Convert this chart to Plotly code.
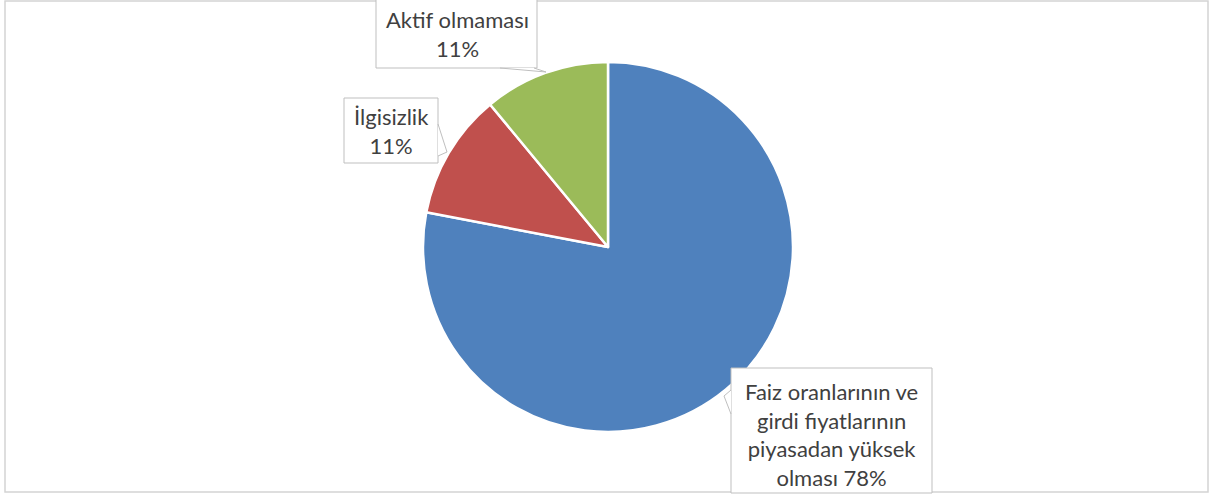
import textwrap
import plotly.graph_objects as go

# ---- data ----
labels = ["Faiz oranlarının ve girdi fiyatlarının piyasadan yüksek olması",
          "İlgisizlik",
          "Aktif olmaması"]
values = [78, 11, 11]
colors = ["#4F81BD", "#C0504D", "#9BBB59"]

W, H = 1220, 499


def px(x):
    return x / W


def py(y):
    return 1 - y / H


# pie geometry (pixels)
cx, cy, r = 608, 247, 185

fig = go.Figure(go.Pie(
    labels=labels,
    values=values,
    sort=False,
    direction="clockwise",
    rotation=0,
    marker=dict(colors=colors, line=dict(color="white", width=2.5)),
    textinfo="none",
    hoverinfo="label+percent",
    showlegend=False,
    domain=dict(x=[px(cx - r), px(cx + r)], y=[py(cy + r), py(cy - r)]),
))

total = sum(values)


def label_text(lab, v):
    pct = f"{round(100 * v / total)}%"
    if len(lab) > 20:
        return "<br>".join(textwrap.wrap(f"{lab} {pct}", 19))
    return f"{lab}<br>{pct}"


# callout boxes (pixel rects) and text centres, in label order
boxes = [(731, 368, 932, 493), (344, 98, 438, 163), (376, -2, 537, 68)]
centres = [(831, 434), (391, 131), (457, 34)]

shapes = []
# outer chart border
shapes.append(dict(type="rect", xref="paper", yref="paper",
                   x0=px(5), x1=px(1208), y0=py(492), y1=py(1),
                   line=dict(color="#d4d4d4", width=1.5), fillcolor="rgba(0,0,0,0)",
                   layer="below"))
for (x0, y0, x1, y1) in boxes:
    shapes.append(dict(type="rect", xref="paper", yref="paper",
                       x0=px(x0), x1=px(x1), y0=py(y1), y1=py(y0),
                       line=dict(color="#bfbfbf", width=1), fillcolor="white"))

# callout pointers
tails = [
    [(731, 390), (724, 396), (731, 414)],
    [(438, 124), (447, 152), (438, 156)],
    [(500, 68), (546, 72), (534, 68)],
]
for pts in tails:
    path = "M " + " L ".join(f"{px(x)},{py(y)}" for x, y in pts)
    shapes.append(dict(type="path", xref="paper", yref="paper", path=path,
                       line=dict(color="#bfbfbf", width=1), fillcolor="white"))

annotations = []
for lab, v, (tx, ty) in zip(labels, values, centres):
    annotations.append(dict(
        x=px(tx), y=py(ty), xref="paper", yref="paper",
        text=label_text(lab, v), showarrow=False,
        xanchor="center", yanchor="middle", align="center",
        font=dict(family="Lato, 'Open Sans', sans-serif", size=22, color="#404040"),
    ))

fig.update_layout(
    width=W, height=H,
    margin=dict(l=0, r=0, t=0, b=0),
    paper_bgcolor="white",
    plot_bgcolor="white",
    shapes=shapes,
    annotations=annotations,
)

fig.write_html(
    "out.html",
    config={"displayModeBar": False},
    post_script="document.body.style.margin='0';document.body.style.padding='0';",
)
